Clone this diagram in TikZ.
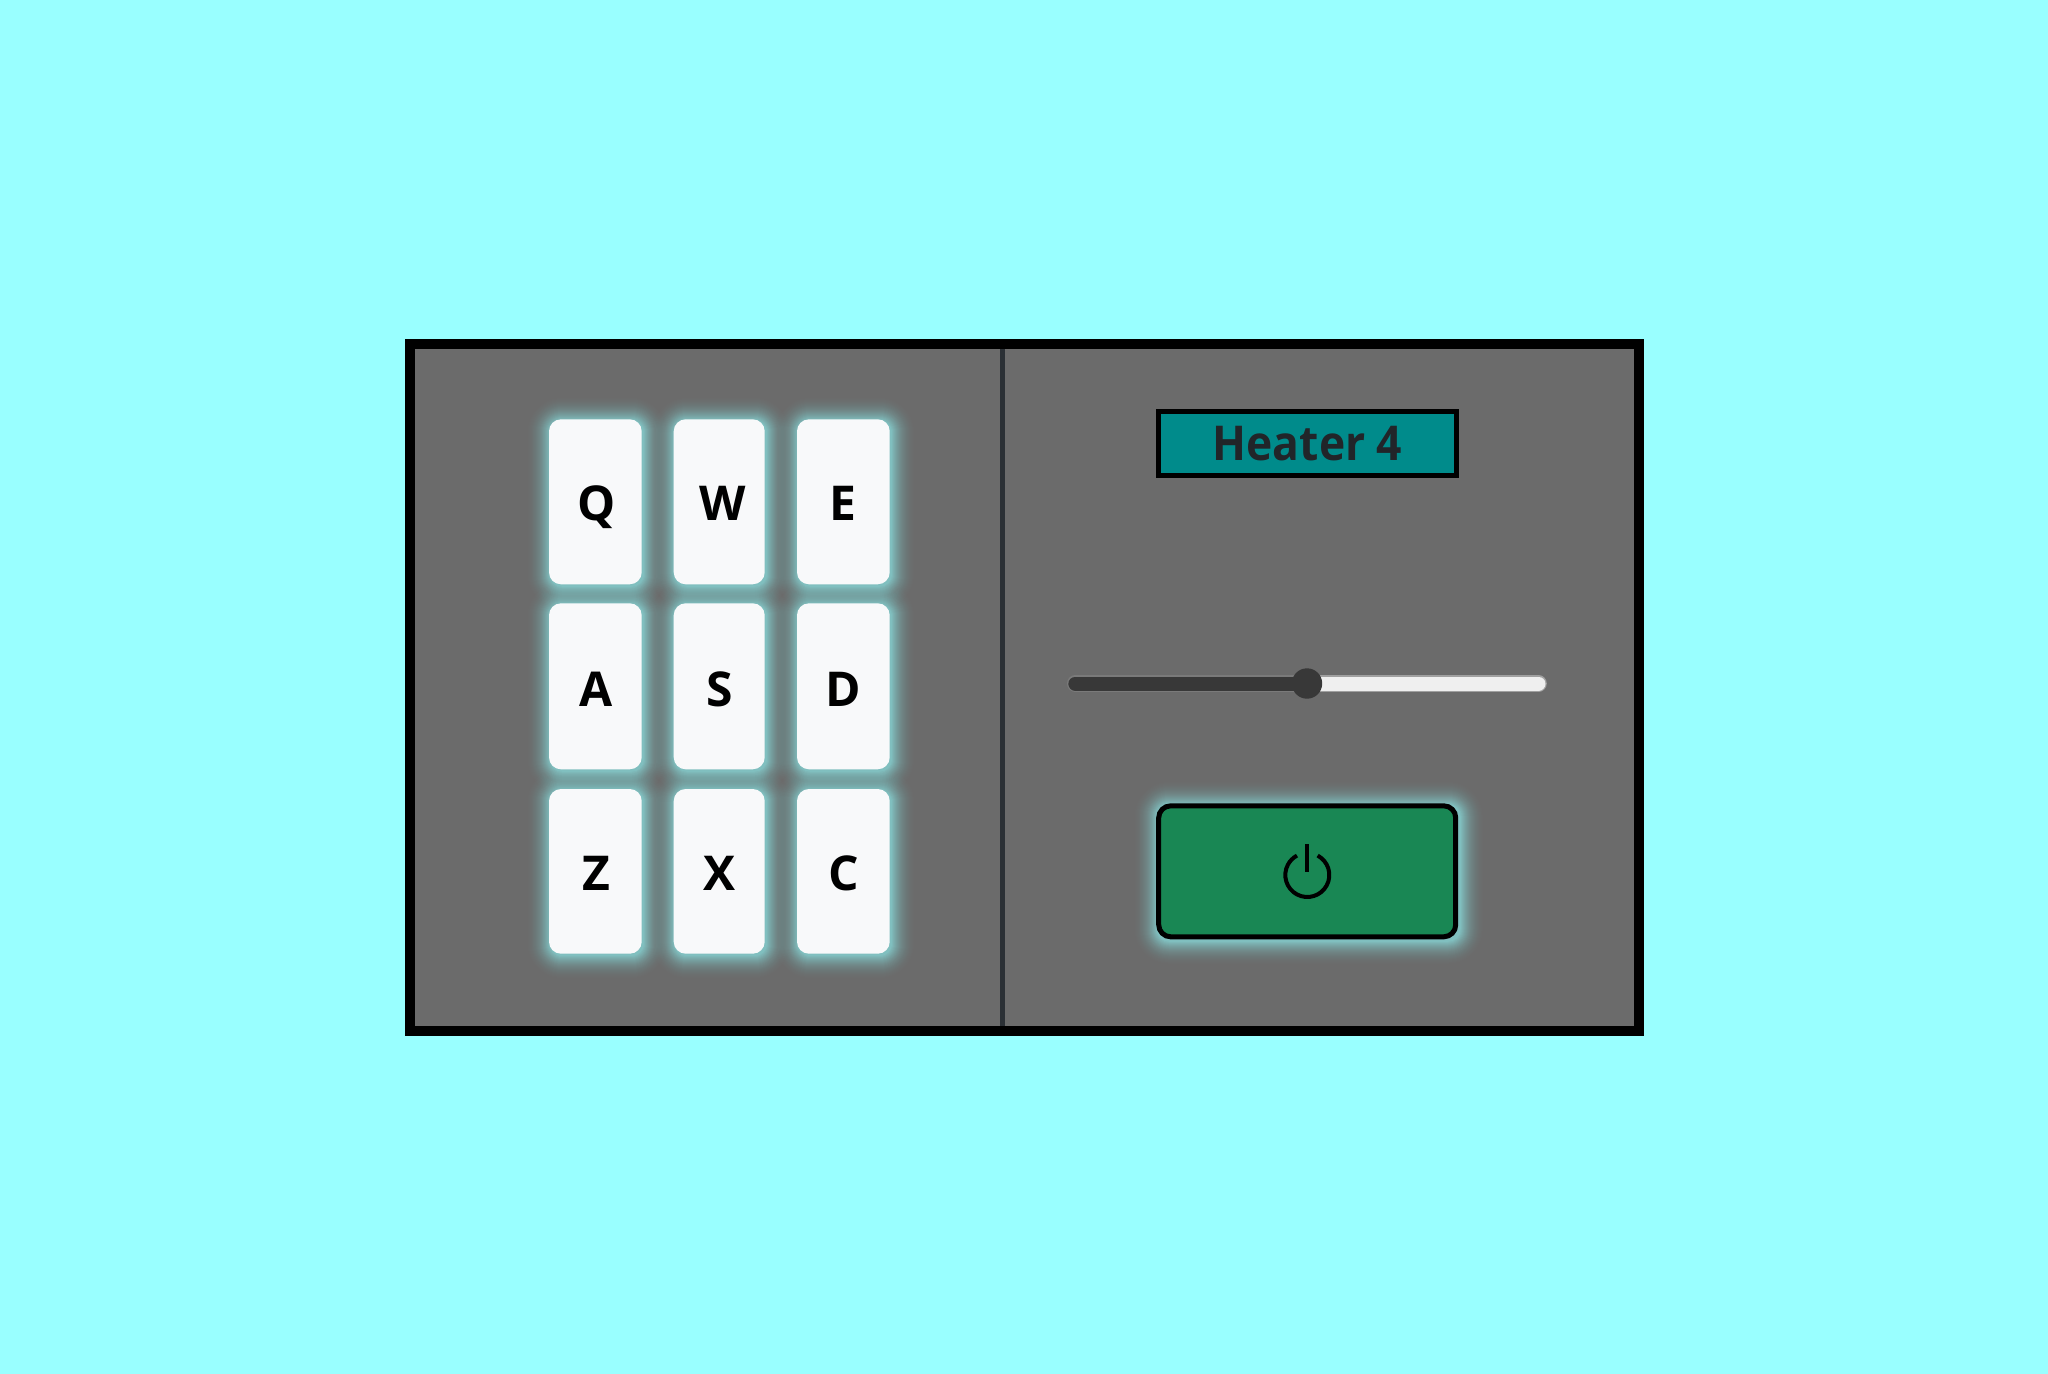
\documentclass[tikz,border=0pt]{standalone}
\usepackage{fontspec}
\setmainfont{Open Sans}
\newfontfamily\heaterfont[FakeStretch=0.925,BoldFont={Open Sans Bold}]{Open Sans}
\definecolor{pagebg}{HTML}{99FFFF}
\definecolor{panelbg}{HTML}{6B6B6B}
\definecolor{keybg}{HTML}{F8F9FA}
\definecolor{tealbg}{HTML}{008B8B}
\definecolor{greenbg}{HTML}{198754}
\definecolor{inkdark}{HTML}{212529}
\definecolor{divider}{HTML}{2B3035}
\definecolor{sliderdark}{HTML}{383838}
\definecolor{sliderlight}{HTML}{EFEFEF}
\definecolor{edgedark}{HTML}{7A7A7A}
\definecolor{edgelight}{HTML}{A0A0A0}
\definecolor{glowc}{HTML}{99FFFF}
\tikzset{
  x=0.5pt,y=-0.5pt,
  keybox/.style={fill=keybg,draw=none,rounded corners=6pt,inner sep=0pt},
  keytext/.style={font=\bfseries\fontsize{24pt}{24pt}\selectfont,text=black,inner sep=0pt,anchor=base},
}
% glow: x1 y1 x2 y2 radius
\newcommand{\glowbox}[5]{%
  \foreach \glowi in {0,...,25}{%
    \pgfmathsetmacro{\glowd}{26-\glowi}%
    \pgfmathsetmacro{\glowt}{(\glowi+1)/26}%
    \pgfmathsetmacro{\glowu}{\glowi/26}%
    \pgfmathsetmacro{\glowA}{0.6*\glowt*\glowt}%
    \pgfmathsetmacro{\glowAp}{0.6*\glowu*\glowu}%
    \pgfmathsetmacro{\glowa}{max(0.001,1-(1-\glowA)/(1-\glowAp))}%
    \pgfmathsetmacro{\glowr}{max(1,#5+\glowd)}%
    \fill[glowc,fill opacity=\glowa,rounded corners=\glowr*0.5pt]
      ({#1-\glowd+1.5},{#2-\glowd+1.5}) rectangle ({#3+\glowd+1.5},{#4+\glowd+1.5});
  }%
}
\begin{document}
\begin{tikzpicture}
\useasboundingbox (0,0) rectangle (2048,1374);
\fill[pagebg] (0,0) rectangle (2048,1374);
\node[draw=black,fill=panelbg,line width=5pt,minimum width=1229*0.5pt,minimum height=686*0.5pt,inner sep=0pt] (panel) at (1024,687.5) {};
\coordinate (divtop) at (1002.5,349);
\coordinate (divbot) at (1002.5,1026);
\draw[line width=2.5pt,draw=divider] (divtop) -- (divbot);
% glows
\foreach \xa/\xb in {549/641.7,673.7/764.7,797/889.7}{
  \foreach \ya/\yb in {419.3/584.3,603.3/769.3,789/953.7}{
    \glowbox{\xa}{\ya}{\xb}{\yb}{12}
  }
}
\glowbox{1156}{803.3}{1458.3}{939.3}{12}
% keys
\foreach \nm/\xa/\xb/\ya/\yb/\lab/\base/\dx in {
  kq/549/641.7/419.3/584.3/Q/520/1.5,
  kw/673.7/764.7/419.3/584.3/W/520/3,
  ke/797/889.7/419.3/584.3/E/520/0,
  ka/549/641.7/603.3/769.3/A/706/1,
  ks/673.7/764.7/603.3/769.3/S/706/1,
  kd/797/889.7/603.3/769.3/D/706/0,
  kz/549/641.7/789/953.7/Z/890/1,
  kx/673.7/764.7/789/953.7/X/890/0,
  kc/797/889.7/789/953.7/C/890/0}{
  \pgfmathsetmacro{\kw}{(\xb-\xa)*0.5}
  \pgfmathsetmacro{\kh}{(\yb-\ya)*0.5}
  \node[keybox,minimum width=\kw pt,minimum height=\kh pt] (\nm) at ({(\xa+\xb)/2},{(\ya+\yb)/2}) {};
  \node[keytext] (t\nm) at ({(\xa+\xb)/2+\dx},\base) {\lab};
}
% heater label
\node[fill=tealbg,draw=black,line width=2.5pt,minimum width=298*0.5pt,minimum height=64*0.5pt,inner sep=0pt] (heater) at (1307.5,443) {};
\node[font=\heaterfont\bfseries\fontsize{24pt}{24pt}\selectfont,text=inkdark,inner sep=0pt,anchor=base] (heatertext) at (1307.5,460) {Heater 4};
% slider
\coordinate (sl) at (1075.3,683.5);
\coordinate (sr) at (1538.5,683.5);
\coordinate (sm) at (1307,683.5);
\draw[line width=8.3pt,line cap=round,draw=edgelight] (sm) -- (sr);
\draw[line width=7pt,line cap=round,draw=sliderlight] (sm) -- (sr);
\draw[line width=8.3pt,line cap=round,draw=edgedark] (sl) -- (sm);
\draw[line width=7pt,line cap=round,draw=sliderdark] (sl) -- (sm);
\node[circle,fill=sliderdark,minimum size=15.2pt,inner sep=0pt] (thumb) at (sm) {};
% power button
\node[fill=greenbg,draw=black,line width=2.5pt,rounded corners=6pt,minimum width=297*0.5pt,minimum height=131*0.5pt,inner sep=0pt] (power) at (1307.2,871.3) {};
\coordinate (pw) at (1307.3,875);
\draw[line width=2pt,draw=black] ([shift={(62:22*0.5pt)}]pw) arc[start angle=62,end angle=-242,radius=22*0.5pt];
\draw[line width=2pt,draw=black] (1307.3,844) -- (1307.3,871.7);
\end{tikzpicture}
\end{document}
